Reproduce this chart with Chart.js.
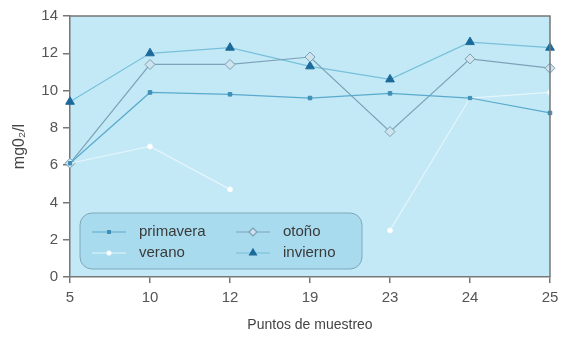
<!DOCTYPE html>
<html>
<head>
<meta charset="utf-8">
<script src="https://cdn.jsdelivr.net/npm/chart.js@4/dist/chart.umd.min.js"></script>
<style>
  html, body { margin: 0; padding: 0; background: #fff; }
  #wrap { width: 568px; height: 338px; }
</style>
</head>
<body>
<div id="wrap"><canvas id="chart" width="568" height="338"></canvas></div>
<script>
var puntos = ["5", "10", "12", "19", "23", "24", "25"];
var primavera = [6.1, 9.9, 9.8, 9.6, 9.85, 9.6, 8.8];
var verano = [6.1, 7.0, 4.7, null, 2.5, 9.6, 9.9];
var otono = [6.1, 11.4, 11.4, 11.8, 7.8, 11.7, 11.2];
var invierno = [9.4, 12.0, 12.3, 11.3, 10.6, 12.6, 12.3];
var yTicks = [0, 2, 4, 6, 8, 10, 12, 14];

var fontFam = "'Liberation Sans', Arial, sans-serif";

var series = [
  { label: "primavera", data: primavera, line: "#5aaacd", style: "rect", r: 2.5, fill: "#3d8fb6", border: "#3d8fb6" },
  { label: "verano", data: verano, line: "#e4f5fb", style: "circle", r: 2.5, fill: "#ffffff", border: "#f4fbfd" },
  { label: "otoño", data: otono, line: "#7ba3b8", style: "rectRot", r: 5, fill: "#cfe4ee", border: "#7c9fb2" },
  { label: "invierno", data: invierno, line: "#78c0da", style: "triangle", r: 5, fill: "#1b6a9a", border: "#1b6a9a" }
];

// plot background and frame
var areaPlugin = {
  id: "area",
  beforeDraw: function (chart) {
    var a = chart.chartArea, c = chart.ctx;
    c.save();
    c.fillStyle = "#c3e9f6";
    c.fillRect(a.left, a.top, a.right - a.left, a.bottom - a.top);
    c.restore();
  },
  afterDatasetsDraw: function (chart) {
    var a = chart.chartArea, c = chart.ctx;
    c.save();
    c.strokeStyle = "#777";
    c.lineWidth = 1.5;
    c.beginPath();
    c.moveTo(a.left, a.top);
    c.lineTo(a.right, a.top);
    c.lineTo(a.right, a.bottom);
    c.stroke();
    c.restore();
  }
};

// legend box inside the plot
var legendPlugin = {
  id: "boxLegend",
  afterDraw: function (chart) {
    var c = chart.ctx;
    var x0 = 80, y0 = 213, w = 282, h = 56, rad = 12;
    c.save();
    c.beginPath();
    c.roundRect(x0, y0, w, h, rad);
    c.fillStyle = "#a8dbee";
    c.fill();
    c.strokeStyle = "#7fa8bb";
    c.lineWidth = 1;
    c.stroke();
    var pos = [
      { lx: 92, ly: 232 },
      { lx: 92, ly: 253 },
      { lx: 236, ly: 232 },
      { lx: 236, ly: 253 }
    ];
    series.forEach(function (s, i) {
      var p = pos[i];
      c.strokeStyle = s.line;
      c.lineWidth = 1.2;
      c.beginPath();
      c.moveTo(p.lx, p.ly);
      c.lineTo(p.lx + 34, p.ly);
      c.stroke();
      c.fillStyle = s.fill;
      c.strokeStyle = s.border;
      Chart.helpers.drawPoint(c, { pointStyle: s.style, radius: s.r * 0.8, borderWidth: 1 }, p.lx + 17, p.ly);
      c.fillStyle = "#3a3a3a";
      c.font = "15px " + fontFam;
      c.textBaseline = "middle";
      c.fillText(s.label, p.lx + 47, p.ly);
    });
    c.restore();
  }
};

var chart = new Chart(document.getElementById("chart"), {
  type: "line",
  data: {
    labels: puntos,
    datasets: series.map(function (s) {
      return {
        label: s.label,
        data: s.data,
        borderColor: s.line,
        borderWidth: 1.2,
        pointStyle: s.style,
        pointRadius: s.r,
        pointBackgroundColor: s.fill,
        pointBorderColor: s.border,
        pointBorderWidth: 1,
        spanGaps: false,
        tension: 0
      };
    })
  },
  options: {
    responsive: false,
    animation: false,
    layout: { padding: { top: 16, right: 18, left: 6, bottom: 0 } },
    plugins: { legend: { display: false }, tooltip: { enabled: false } },
    scales: {
      x: {
        offset: false,
        grid: { drawOnChartArea: false, drawTicks: true, tickLength: 6, color: "#777", lineWidth: 1.5 },
        border: { color: "#777", width: 1.5 },
        ticks: { color: "#555", font: { size: 15, family: fontFam }, padding: 6 },
        title: { display: true, text: "Puntos de muestreo", color: "#444", font: { size: 14, family: fontFam }, padding: { top: 16 } },
        afterFit: function (s) { s.height = 61; }
      },
      y: {
        min: 0,
        max: 14,
        afterBuildTicks: function (s) { s.ticks = yTicks.map(function (v) { return { value: v }; }); },
        grid: { drawOnChartArea: false, drawTicks: true, tickLength: 7, color: "#777", lineWidth: 1.5 },
        border: { color: "#777", width: 1.5 },
        ticks: { color: "#555", font: { size: 15, family: fontFam }, padding: 5 },
        title: { display: true, text: "mg0₂/l", color: "#444", font: { size: 16, family: fontFam }, padding: { bottom: 2 } },
        afterFit: function (s) { s.width = 64; }
      }
    }
  },
  plugins: [areaPlugin, legendPlugin]
});
</script>
</body>
</html>
